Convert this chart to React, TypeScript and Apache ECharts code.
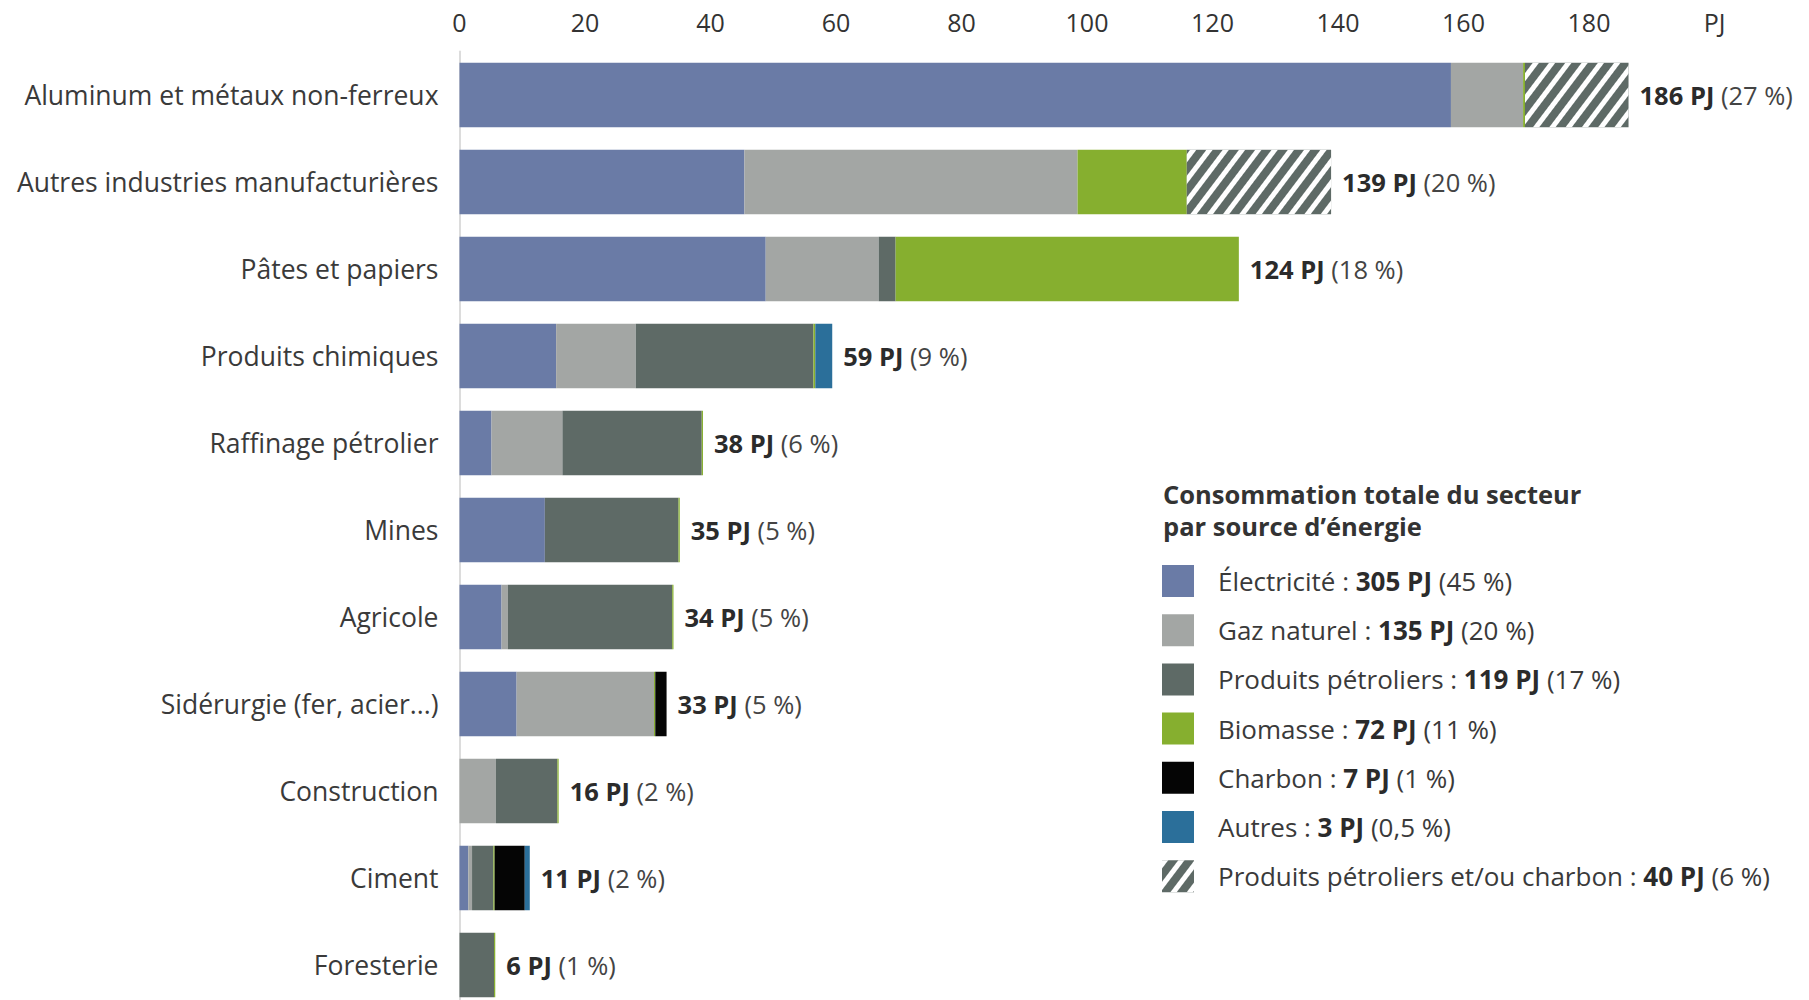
import React, { useEffect, useRef } from "react";
import * as echarts from "echarts";

const categories = [
  "Aluminum et métaux non-ferreux",
  "Autres industries manufacturières",
  "Pâtes et papiers",
  "Produits chimiques",
  "Raffinage pétrolier",
  "Mines",
  "Agricole",
  "Sidérurgie (fer, acier...)",
  "Construction",
  "Ciment",
  "Foresterie",
];

const electricite = [158, 45.4, 48.8, 15.4, 5.1, 13.6, 6.7, 9.1, 0, 1.4, 0];
const gazNaturel = [11.5, 53.1, 18.0, 12.7, 11.3, 0, 1.0, 21.9, 5.8, 0.6, 0];
const petroliers = [0, 0, 2.7, 28.3, 22.2, 21.3, 26.2, 0, 9.8, 3.4, 5.5];
const biomasse = [0.3, 17.4, 54.7, 0.3, 0.2, 0.2, 0.2, 0.2, 0.2, 0.2, 0.2];
const charbon = [0, 0, 0, 0, 0, 0, 0, 1.8, 0, 4.8, 0];
const autres = [0, 0, 0, 2.7, 0, 0, 0, 0, 0, 0.8, 0];
const petrolOuCharbon = [16.5, 23.0, 0, 0, 0, 0, 0, 0, 0, 0, 0];

const totals = [186, 139, 124, 59, 38, 35, 34, 33, 16, 11, 6];
const totalPct = ["27", "20", "18", "9", "6", "5", "5", "5", "2", "2", "1"];

const xTicks = [0, 20, 40, 60, 80, 100, 120, 140, 160, 180];
const unitLabel = "PJ";

const sourceNames = [
  "Électricité",
  "Gaz naturel",
  "Produits pétroliers",
  "Biomasse",
  "Charbon",
  "Autres",
  "Produits pétroliers et/ou charbon",
];
const sourceTotals = ["305", "135", "119", "72", "7", "3", "40"];
const sourcePct = ["45", "20", "17", "11", "1", "0,5", "6"];

const legendTitle = "Consommation totale du secteur\npar source d’énergie";

const COLORS = ["#6a7ba6", "#a3a6a4", "#5e6a66", "#86af2f", "#050505", "#2b6f9a", "#5e6a66"];
const FONT = "'Open Sans', 'Noto Sans', sans-serif";

export default function App() {
  const ref = useRef<HTMLDivElement>(null);

  useEffect(() => {
    if (!ref.current) return;
    const chart = echarts.init(ref.current, undefined, { renderer: "svg" });
    const seriesData = [electricite, gazNaturel, petroliers, biomasse, charbon, autres, petrolOuCharbon];

    const series: any[] = seriesData.map((d, si) => {
      const s: any = {
        name: sourceNames[si],
        type: "bar",
        stack: "total",
        barWidth: 64.5,
        data: d,
        itemStyle: { color: COLORS[si] },
        emphasis: { disabled: true },
      };
      if (si === 6) {
        s.itemStyle = {
          color: COLORS[si],
          decal: {
            symbol: "rect",
            symbolSize: 1,
            color: "#ffffff",
            dashArrayX: [1, 0],
            dashArrayY: [5, 8],
            rotation: -Math.PI / 3.4,
          },
        };
        s.label = {
          show: true,
          position: "right",
          distance: 11,
          formatter: (p: any) =>
            `{b|${totals[p.dataIndex]} PJ}{n| (${totalPct[p.dataIndex]} %)}`,
          rich: {
            b: { fontFamily: FONT, fontSize: 25.5, fontWeight: "bold", color: "#2b2b2b" },
            n: { fontFamily: FONT, fontSize: 25.5, color: "#444444" },
          },
        };
      }
      return s;
    });

    chart.setOption({
      animation: false,
      textStyle: { fontFamily: FONT },
      title: {
        text: legendTitle,
        left: 1163,
        top: 478,
        padding: 0,
        textStyle: {
          fontFamily: FONT,
          fontSize: 25.5,
          fontWeight: "bold",
          color: "#333333",
          lineHeight: 32,
        },
      },
      legend: {
        data: sourceNames,
        orient: "vertical",
        left: 1162,
        top: 565,
        padding: 0,
        itemWidth: 32,
        itemHeight: 32,
        itemGap: 17.2,
        icon: "rect",
        selectedMode: false,
        formatter: (name: string) => {
          const i = sourceNames.indexOf(name);
          return `{t|${name} : }{b|${sourceTotals[i]} PJ}{t| (${sourcePct[i]} %)}`;
        },
        textStyle: {
          padding: [0, 0, 0, 19],
          rich: {
            t: { fontFamily: FONT, fontSize: 26, color: "#3a3a3a" },
            b: { fontFamily: FONT, fontSize: 26, fontWeight: "bold", color: "#2b2b2b" },
          },
        },
      },
      grid: {
        left: 459.5,
        top: 51.5,
        width: 1255,
        height: 957,
        containLabel: false,
        outerBoundsMode: "none",
      },
      xAxis: {
        type: "value",
        position: "top",
        min: 0,
        max: 200,
        interval: 20,
        axisLine: { show: false },
        axisTick: { show: false },
        splitLine: { show: false },
        axisLabel: {
          margin: 17,
          fontFamily: FONT,
          fontSize: 25,
          color: "#333333",
          formatter: (v: number) => (xTicks.indexOf(v) >= 0 ? String(v) : unitLabel),
        },
      },
      yAxis: {
        type: "category",
        data: categories,
        inverse: true,
        axisLine: { show: true, lineStyle: { color: "#dcdcdc", width: 2 } },
        axisTick: { show: false },
        axisLabel: {
          margin: 21,
          fontFamily: FONT,
          fontSize: 26.5,
          color: "#3a3a3a",
          padding: [0, 0, 10, 0],
        },
      },
      series,
    });

    return () => chart.dispose();
  }, []);

  return (
    <div
      ref={ref}
      style={{ position: "fixed", left: 0, top: 0, width: 1809, height: 1000, background: "#ffffff" }}
    />
  );
}
